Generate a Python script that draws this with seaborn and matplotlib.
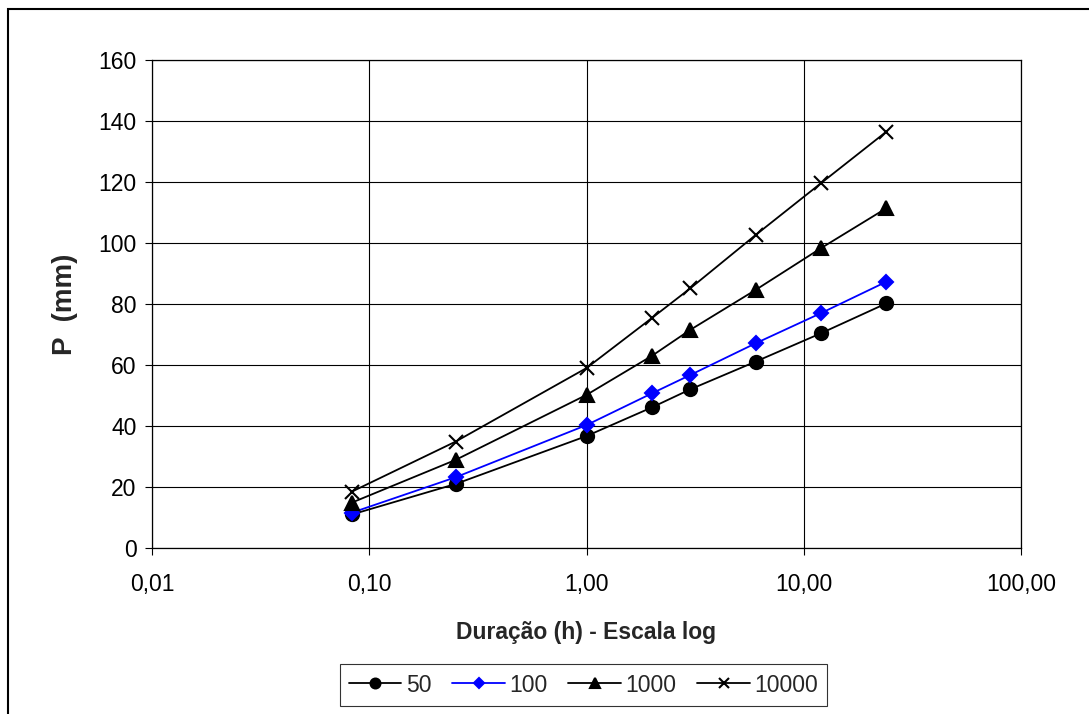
"""Chuva intensa: P x duração, escala log."""

import matplotlib
matplotlib.use("Agg")
import matplotlib.pyplot as plt
import matplotlib.ticker as mticker
from matplotlib.patches import Rectangle
import pandas as pd
import seaborn as sns

# durações em horas (5 min, 15 min, 1h ... 24h)
duracao = [0.0833, 0.25, 1, 2, 3, 6, 12, 24]
p_50 = [11.0, 21.0, 36.7, 46.1, 52.0, 61.1, 70.4, 80.2]
p_100 = [11.6, 23.2, 40.3, 50.7, 56.7, 67.1, 77.0, 87.3]
p_1000 = [14.9, 28.9, 50.2, 63.0, 71.5, 84.6, 98.3, 111.4]
p_10000 = [18.5, 34.9, 59.0, 75.4, 85.1, 102.6, 119.6, 136.5]

series = {"50": p_50, "100": p_100, "1000": p_1000, "10000": p_10000}
cores = {"50": "black", "100": "#0000FF", "1000": "black", "10000": "black"}
marcadores = {"50": "o", "100": "D", "1000": "^", "10000": "x"}
tamanhos = {"50": 9.5, "100": 7, "1000": 9.5, "10000": 10}

sns.set_theme(style="white")
plt.rcParams["font.family"] = ["Liberation Sans", "DejaVu Sans"]

fig = plt.figure(figsize=(10.89, 7.14), dpi=100)
ax = fig.add_axes([152 / 1089, 1 - 548 / 714, (1021 - 152) / 1089, (548 - 60) / 714])

for nome, valores in series.items():
    df = pd.DataFrame({"duracao": duracao, "P": valores})
    sns.lineplot(data=df, x="duracao", y="P", ax=ax, color=cores[nome], label=nome,
                 marker=marcadores[nome], markersize=tamanhos[nome], linewidth=1.3,
                 markeredgecolor=cores[nome], markeredgewidth=1.5, estimator=None)

ax.set_xscale("log")
ax.set_xlim(0.01, 100)
ax.set_ylim(0, 160)
ax.set_yticks(range(0, 161, 20))
ax.xaxis.set_major_locator(mticker.FixedLocator([0.01, 0.1, 1, 10, 100]))
ax.xaxis.set_minor_locator(mticker.NullLocator())
ax.xaxis.set_major_formatter(mticker.FuncFormatter(lambda v, _: f"{v:.2f}".replace(".", ",")))

ax.grid(True, which="major", color="black", linewidth=0.8)
for s in ax.spines.values():
    s.set_color("black")
    s.set_linewidth(0.9)
ax.tick_params(axis="both", which="major", direction="out", length=5, width=0.8,
               colors="black", labelsize=16.5)
ax.tick_params(axis="x", pad=13)
ax.tick_params(axis="y", pad=6)
ax.tick_params(left=True, bottom=True)

ax.set_xlabel("Duração (h) - Escala log", fontsize=16.5, fontweight="bold", labelpad=18)
ax.set_ylabel("P  (mm)", fontsize=20, fontweight="bold", labelpad=15)

h, l = ax.get_legend_handles_labels()
ax.get_legend().remove()
leg = fig.legend(h, l, loc="center", bbox_to_anchor=(583.5 / 1089, 1 - 685 / 714), ncol=4,
                 fontsize=16.5, frameon=True, fancybox=False, edgecolor="black",
                 handlelength=2.3, handletextpad=0.2, columnspacing=0.9, markerscale=0.75,
                 borderpad=0.4)
leg.get_frame().set_linewidth(0.8)

# moldura externa (só esquerda e topo aparecem)
fig.patches.append(Rectangle((8 / 1089, -0.1), 1.2, 1.1 - 9 / 714, transform=fig.transFigure,
                             fill=False, edgecolor="black", linewidth=1.5))

fig.savefig("out.png", dpi=100)
